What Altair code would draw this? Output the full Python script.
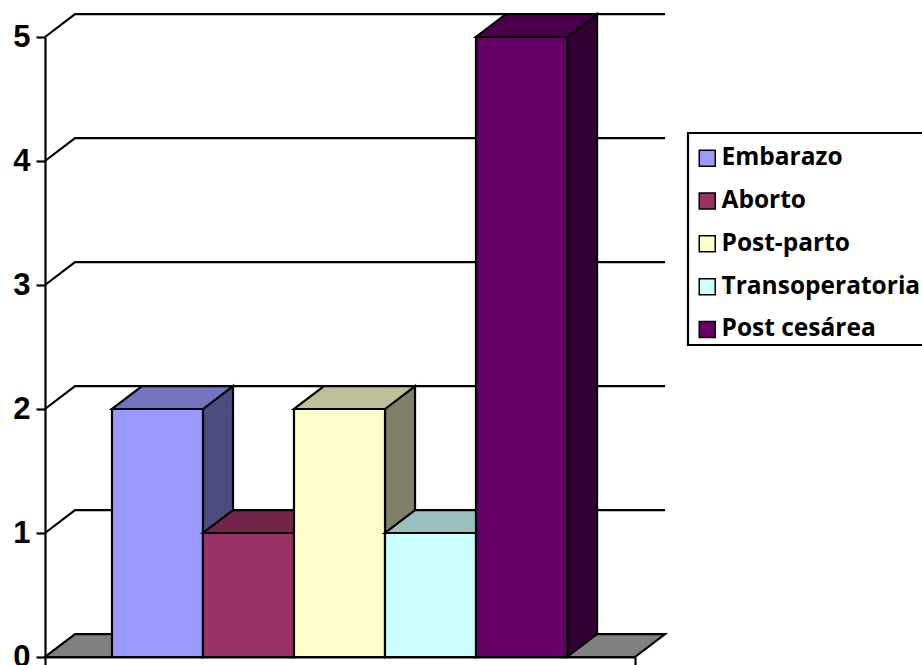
import altair as alt
import pandas as pd

# Case counts by obstetric moment
categories = ["Embarazo", "Aborto", "Post-parto", "Transoperatoria", "Post cesárea"]
values = [2, 1, 2, 1, 5]
y_ticks = [0, 1, 2, 3, 4, 5]

front_colors = ["#9999FF", "#993366", "#FFFFCC", "#CCFFFF", "#660066"]
top_colors = ["#7373BF", "#732649", "#BFBF99", "#99BFBF", "#4C004C"]
side_colors = ["#4C4C80", "#4D1A33", "#808066", "#668080", "#330033"]

# Extents of the category axis in bar widths, and the oblique offset of the back wall
X_MIN, X_MAX = -0.736, 5.747
DEPTH_X, DEPTH_Y = 0.33, 0.185
LINE = 2.2

x_scale = alt.Scale(domain=[X_MIN, X_MAX], nice=False, zero=False)
y_scale = alt.Scale(domain=[0, 5], nice=False, zero=False)

x_axis = alt.Axis(values=[X_MIN, X_MAX], labels=False, grid=False, tickSize=8, tickWidth=LINE,
                  tickColor="black", domainColor="black", domainWidth=LINE, zindex=1)
y_axis = alt.Axis(values=y_ticks, format="d", grid=False, tickSize=9, tickWidth=LINE,
                  tickColor="black", domainColor="black", domainWidth=LINE, zindex=1,
                  labelFont="Liberation Sans", labelFontWeight="bold", labelFontSize=31,
                  labelColor="black", labelPadding=6, labelBound=False, labelFlush=False)


def x_enc():
    return alt.X("x:Q", scale=x_scale, axis=x_axis, title=None)


def y_enc():
    return alt.Y("y:Q", scale=y_scale, axis=y_axis, title=None, stack=None)


def box_top(left, right, level):
    """Points of the slanted upper face of a box, or of the floor when level is 0."""
    return pd.DataFrame({
        "x": [left, left + DEPTH_X, right, right + DEPTH_X],
        "y": [level, level, level, level + DEPTH_Y],
        "y2": [level, level + DEPTH_Y, level + DEPTH_Y, level + DEPTH_Y],
    })


def box_side(right, level):
    """Points of the right-hand face of a bar."""
    return pd.DataFrame({
        "x": [right, right + DEPTH_X],
        "y": [0, DEPTH_Y],
        "y2": [level, level + DEPTH_Y],
    })


def face(frame, fill):
    return alt.Chart(frame).mark_area(
        fill=fill, stroke="black", strokeWidth=LINE, strokeJoin="miter", opacity=1
    ).encode(x=x_enc(), y=y_enc(), y2="y2:Q")


layers = []

# Gridlines running along the left wall and the back wall
for tick in y_ticks[1:]:
    grid = pd.DataFrame({
        "x": [X_MIN, X_MIN + DEPTH_X, X_MAX + DEPTH_X],
        "y": [tick, tick + DEPTH_Y, tick + DEPTH_Y],
    })
    layers.append(
        alt.Chart(grid).mark_line(color="black", strokeWidth=LINE).encode(x=x_enc(), y=y_enc())
    )

layers.append(face(box_top(X_MIN, X_MAX, 0), "#808080"))

# Bars are painted left to right so each front covers its neighbour's side
for i, (name, value) in enumerate(zip(categories, values)):
    layers.append(face(box_side(i + 1, value), side_colors[i]))
    layers.append(face(box_top(i, i + 1, value), top_colors[i]))
    front = pd.DataFrame({"x": [i], "x2": [i + 1], "y": [value], "y0": [0], "Categoria": [name]})
    layers.append(
        alt.Chart(front).mark_rect(stroke="black", strokeWidth=LINE).encode(
            x=x_enc(),
            x2="x2:Q",
            y=y_enc(),
            y2="y0:Q",
            color=alt.Color(
                "Categoria:N",
                scale=alt.Scale(domain=categories, range=front_colors),
                sort=categories,
                legend=alt.Legend(
                    title=None, orient="none", legendX=641, legendY=100,
                    symbolType="square", symbolSize=256, symbolStrokeColor="black",
                    symbolStrokeWidth=1.5, symbolOpacity=1,
                    labelFont="Open Sans", labelFontWeight="bold", labelFontSize=24.5,
                    labelColor="black", labelOffset=2, labelLimit=400,
                    rowPadding=17.8, padding=9,
                ),
            ),
        )
    )

# Frame around the legend
layers.append(
    alt.Chart(pd.DataFrame({"a": [0]})).mark_rect(
        fill="white", stroke="black", strokeWidth=LINE
    ).encode(x=alt.value(643), x2=alt.value(900), y=alt.value(96), y2=alt.value(308))
)

chart = alt.layer(*layers).properties(
    width=590,
    height=620,
    padding={"left": 45, "top": 37, "right": 287, "bottom": 8},
    autosize=alt.AutoSizeParams(type="none"),
    background="white",
).configure_view(stroke=None)

chart.save("out.html", embed_options={"renderer": "svg", "actions": False})
